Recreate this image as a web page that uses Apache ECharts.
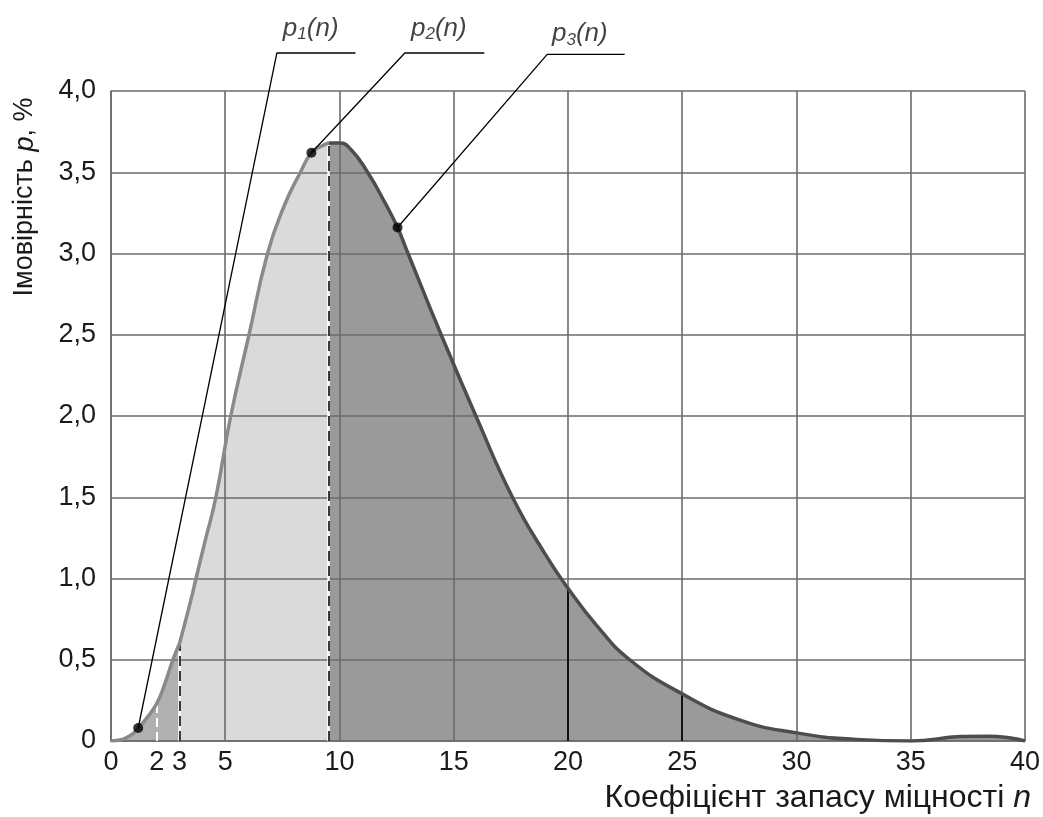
<!DOCTYPE html>
<html>
<head>
<meta charset="utf-8">
<script src="https://cdn.jsdelivr.net/npm/echarts@6/dist/echarts.min.js"></script>
<style>
html,body{margin:0;padding:0;background:#fff;}
#c{width:1043px;height:817px;}
</style>
</head>
<body>
<div id="c"></div>
<script>
// ---- data ----
const p1N = [0, 0.5, 0.8, 1.0, 1.19, 1.5, 2.0, 2.35, 2.71, 3.0];
const p1P = [0, 0.01, 0.03, 0.05, 0.08, 0.13, 0.23, 0.35, 0.50, 0.60];

const p2N = [3.0, 3.5, 3.72, 4.1, 4.59, 5.24, 6.04, 6.85, 7.6, 8.29, 8.77, 9.2, 9.52];
const p2P = [0.60, 0.87, 1.0, 1.22, 1.5, 2.0, 2.5, 3.0, 3.3, 3.5, 3.62, 3.66, 3.68];

const p3N = [9.52, 10.0, 10.5, 11.23, 12.0, 12.54, 13.0, 14.45, 15.97, 17.57, 19.0, 20.0, 21.26, 22.7, 25.0, 27.5, 30.0, 32.6, 35.0, 37.2, 38.4, 39.3, 40.0];
const p3P = [3.68, 3.68, 3.64, 3.5, 3.31, 3.16, 3.0, 2.5, 2.0, 1.5, 1.15, 0.94, 0.71, 0.5, 0.29, 0.13, 0.05, 0.01, 0.0, 0.027, 0.03, 0.02, 0.0];

const xMainTicks = [0, 5, 10, 15, 20, 25, 30, 35, 40];
const xExtraTicks = [2, 3];
const yTicks = [0, 0.5, 1.0, 1.5, 2.0, 2.5, 3.0, 3.5, 4.0];

const solidMarksN = [20, 25];          // black verticals under p3
const dashWhiteN = [2];                // white dashed under p1
const dashDarkN = [3, 9.52];           // dark dashed boundaries

// annotation callouts: curve point, start of shelf, end of shelf (n), shelf level (p)
const calloutNames = ['1', '2', '3'];
const calloutPointN = [1.19, 8.77, 12.54];
const calloutPointP = [0.08, 3.62, 3.16];
const calloutShelfStartN = [7.26, 12.86, 19.09];
const calloutShelfEndN = [10.7, 16.34, 22.48];
const calloutShelfP = [4.234, 4.234, 4.225];
const calloutTextN = [8.74, 14.35, 20.52];
const calloutTextP = [4.385, 4.385, 4.35];

// ---- helpers ----
const zip = (a, b) => a.map((v, i) => [v, b[i]]);
const allN = p1N.concat(p2N, p3N);
const allP = p1P.concat(p2P, p3P);
function pAt(n) {
  const i = allN.indexOf(n);
  return allP[i];
}

const FONT = '"Liberation Sans", Arial, sans-serif';
const GRID = '#6b6b6b';
const SMOOTH = 0.5;

const chart = echarts.init(document.getElementById('c'), null, {renderer: 'canvas'});

const markData = [];
dashWhiteN.forEach(n => {
  markData.push([{coord: [n, 0], lineStyle: {color: '#ffffff', width: 2, type: [9, 5]}}, {coord: [n, pAt(n)]}]);
});
dashDarkN.forEach(n => {
  markData.push([{coord: [n, 0], lineStyle: {color: '#ffffff', width: 2.5, type: 'solid'}}, {coord: [n, pAt(n)]}]);
  markData.push([{coord: [n, 0], lineStyle: {color: '#3a3a3a', width: 2, type: [10, 5]}}, {coord: [n, pAt(n)]}]);
});
solidMarksN.forEach(n => {
  markData.push([{coord: [n, 0], lineStyle: {color: '#111111', width: 2, type: 'solid'}}, {coord: [n, pAt(n)]}]);
});

const series = [
  {type: 'line', name: 'p1area', data: zip(p1N, p1P), smooth: SMOOTH, symbol: 'none', z: 1,
   lineStyle: {width: 0}, areaStyle: {color: '#b0b0b0', opacity: 1}, silent: true},
  {type: 'line', name: 'p2area', data: zip(p2N, p2P), smooth: SMOOTH, symbol: 'none', z: 1,
   lineStyle: {width: 0}, areaStyle: {color: '#dadada', opacity: 1}, silent: true},
  {type: 'line', name: 'p3area', data: zip(p3N, p3P), smooth: SMOOTH, symbol: 'none', z: 1,
   lineStyle: {width: 0}, areaStyle: {color: '#9a9a9a', opacity: 1}, silent: true},
  {type: 'line', name: 'p1', data: zip(p1N, p1P), smooth: SMOOTH, symbol: 'none', z: 5,
   lineStyle: {width: 3.5, color: '#8a8a8a'}, silent: true,
   markLine: {symbol: 'none', silent: true, label: {show: false}, z: 4, data: markData}},
  {type: 'line', name: 'p2', data: zip(p2N, p2P), smooth: SMOOTH, symbol: 'none', z: 5,
   lineStyle: {width: 3.5, color: '#8a8a8a'}, silent: true},
  {type: 'line', name: 'p3', data: zip(p3N, p3P), smooth: SMOOTH, symbol: 'none', z: 6,
   lineStyle: {width: 3.5, color: '#4d4d4d'}, silent: true}
];

calloutNames.forEach((nm, i) => {
  series.push({
    type: 'line', name: 'leader' + nm, clip: false, symbol: 'none', z: 7, silent: true,
    lineStyle: {color: '#000', width: 1.3},
    data: [[calloutPointN[i], calloutPointP[i]], [calloutShelfStartN[i], calloutShelfP[i]], [calloutShelfEndN[i], calloutShelfP[i]]]
  });
});
series.push({
  type: 'scatter', name: 'dots', clip: false, z: 8, silent: true,
  symbol: 'circle', symbolSize: 10, itemStyle: {color: '#000'},
  data: zip(calloutPointN, calloutPointP)
});
series.push({
  type: 'scatter', name: 'labels', clip: false, z: 8, silent: true,
  symbolSize: 0.01, itemStyle: {color: 'rgba(0,0,0,0)'},
  data: calloutTextN.map((n, i) => ({value: [n, calloutTextP[i]], sub: calloutNames[i]})),
  label: {
    show: true, position: 'inside',
    formatter: p => '{i|p}{s|' + p.data.sub + '}{i|(n)}',
    rich: {
      i: {fontFamily: FONT, fontStyle: 'italic', fontSize: 26, color: '#111'},
      s: {fontFamily: FONT, fontStyle: 'italic', fontSize: 17, color: '#111', verticalAlign: 'bottom', padding: [12, 0, 0, 0]}
    }
  }
});

const option = {
  animation: false,
  backgroundColor: '#ffffff',
  grid: {left: 111, right: 12, top: 91, bottom: 76, containLabel: false},
  xAxis: [
    {type: 'value', min: 0, max: 40, interval: 5, position: 'bottom', z: 3,
     axisLine: {show: true, lineStyle: {color: GRID, width: 1.6}},
     axisTick: {show: false},
     splitLine: {show: true, lineStyle: {color: GRID, width: 1.6}},
     axisLabel: {show: true, margin: 8, fontFamily: FONT, fontSize: 27, color: '#1a1a1a',
       formatter: v => xMainTicks.indexOf(v) >= 0 ? String(v) : ''}},
    {type: 'value', min: 0, max: 40, interval: 1, position: 'bottom', z: 3,
     axisLine: {show: false}, axisTick: {show: false}, splitLine: {show: false},
     axisLabel: {show: true, margin: 8, fontFamily: FONT, fontSize: 27, color: '#1a1a1a',
       formatter: v => xExtraTicks.indexOf(v) >= 0 ? String(v) : ''}}
  ],
  yAxis: {type: 'value', min: 0, max: 4, interval: 0.5, z: 3,
    axisLine: {show: true, lineStyle: {color: GRID, width: 1.6}},
    axisTick: {show: false},
    splitLine: {show: true, lineStyle: {color: GRID, width: 1.6}},
    axisLabel: {margin: 15, fontFamily: FONT, fontSize: 27, color: '#1a1a1a',
      formatter: v => yTicks.indexOf(v) >= 0 ? (v === 0 ? '0' : v.toFixed(1).replace('.', ',')) : ''}},
  graphic: [
    {type: 'text', x: 25, y: 197, rotation: Math.PI / 2, silent: true,
     style: {text: '{a|Імовірність }{i|p}{a|, %}', align: 'center', verticalAlign: 'middle',
       rich: {a: {fontFamily: FONT, fontSize: 27, fill: '#1a1a1a'}, i: {fontFamily: FONT, fontSize: 27, fontStyle: 'italic', fill: '#1a1a1a'}}}},
    {type: 'text', x: 1031, y: 798, silent: true,
     style: {text: '{a|Коефіцієнт запасу міцності }{i|n}', align: 'right', verticalAlign: 'middle',
       rich: {a: {fontFamily: FONT, fontSize: 32, fill: '#1a1a1a'}, i: {fontFamily: FONT, fontSize: 32, fontStyle: 'italic', fill: '#1a1a1a'}}}}
  ],
  series: series
};
chart.setOption(option);
</script>
</body>
</html>
